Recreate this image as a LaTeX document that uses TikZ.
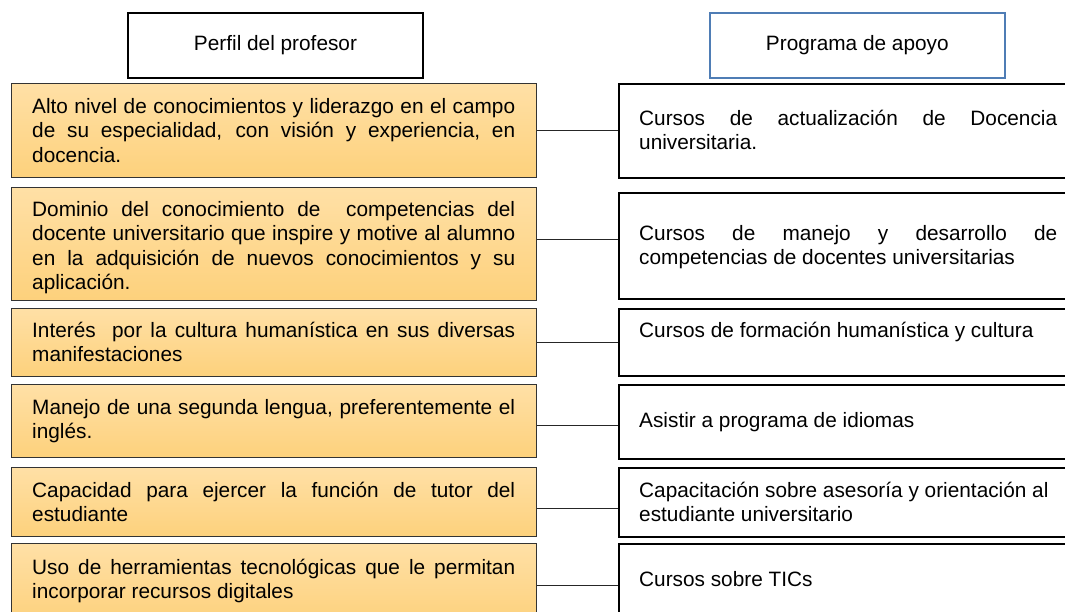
\documentclass[tikz,border=0pt]{standalone}
\usepackage{fontspec}
\setmainfont{Liberation Sans}
\definecolor{goldtop}{HTML}{FFE0A6}
\definecolor{goldbot}{HTML}{FDD17C}
\definecolor{hdrblue}{HTML}{4F7DB5}
\newcommand{\boxfont}{\fontsize{20.8}{24.5}\selectfont}
\begin{document}
\begin{tikzpicture}[x=1pt,y=-1pt,
  hdrbox/.style={draw=black, line width=2pt, fill=white, anchor=north west, inner sep=0pt, minimum width=295pt, minimum height=65pt, font=\boxfont},
  hdrboxb/.style={hdrbox, draw=hdrblue, line width=1.6pt},
  lbox/.style={draw=black!80, line width=1.1pt, top color=goldtop, bottom color=goldbot, anchor=north west, inner sep=0pt, minimum width=525pt},
  rbox/.style={draw=black, line width=2pt, fill=white, anchor=north west, inner sep=0pt, minimum width=470pt},
  ltext/.style={anchor=base west, inner sep=0pt, text width=483pt, align=justify, font=\boxfont},
  rtext/.style={anchor=base west, inner sep=0pt, text width=418pt, align=justify, font=\boxfont},
  conn/.style={draw=black!85, line width=1pt}]
\useasboundingbox (0,0) rectangle (1065,611);
\clip (0,0) rectangle (1065,611);
\hyphenpenalty=10000
% headers
\node[hdrbox] (h1) at (127,12) {Perfil del profesor};
\node[hdrboxb] (h2) at (709,12) {Programa de apoyo};
% left boxes
\node[lbox, minimum height=94pt] (l1) at (11,83) {};
\node[lbox, minimum height=113pt] (l2) at (11,187) {};
\node[lbox, minimum height=68pt] (l3) at (11,308) {};
\node[lbox, minimum height=73pt] (l4) at (11,384) {};
\node[lbox, minimum height=69pt] (l5) at (11,467) {};
\node[lbox, minimum height=80pt] (l6) at (11,543) {};
% right boxes
\node[rbox, minimum height=94pt] (r1) at (618,83) {};
\node[rbox, minimum height=106pt] (r2) at (618,192) {};
\node[rbox, minimum height=67pt] (r3) at (618,308) {};
\node[rbox, minimum height=74pt] (r4) at (618,384) {};
\node[rbox, minimum height=69pt] (r5) at (618,467) {};
\node[rbox, minimum height=74pt] (r6) at (618,543) {};
% left texts
\node[ltext] (lt1) at (32,113) {Alto nivel de conocimientos y liderazgo en el campo\linebreak de su especialidad, con visión y experiencia,\ en\linebreak docencia.};
\node[ltext] (lt2) at (32,216) {Dominio del conocimiento de\ \ competencias del\linebreak docente universitario que inspire y motive al alumno\linebreak en la adquisición de nuevos conocimientos y\ su\linebreak aplicación.};
\node[ltext] (lt3) at (32,337) {Interés\ \ por la cultura humanística en sus diversas\linebreak manifestaciones};
\node[ltext] (lt4) at (32,414) {Manejo de una segunda lengua, preferentemente el\linebreak inglés.};
\node[ltext] (lt5) at (32,497) {Capacidad para ejercer la función de tutor del\linebreak estudiante};
\node[ltext] (lt6) at (32,574) {Uso de herramientas tecnológicas que le permitan\linebreak incorporar recursos digitales};
% right texts
\node[rtext] (rt1) at (639,125) {Cursos de actualización de Docencia\linebreak universitaria.};
\node[rtext] (rt2) at (639,240) {Cursos de manejo y desarrollo de\linebreak competencias de docentes universitarias};
\node[rtext] (rt3) at (639,337) {Cursos de formación humanística y cultura};
\node[rtext] (rt4) at (639,427) {Asistir a programa de idiomas};
\node[rtext] (rt5) at (639,497) {Capacitación sobre asesoría y orientación al\\estudiante universitario};
\node[rtext] (rt6) at (639,586) {Cursos sobre TICs};
% connector levels
\coordinate (c1) at (0,130);
\coordinate (c2) at (0,239);
\coordinate (c3) at (0,342);
\coordinate (c4) at (0,425);
\coordinate (c5) at (0,508);
\coordinate (c6) at (0,585);
\foreach \i in {1,...,6}{
  \draw[conn] (l\i.east |- c\i) -- (r\i.west |- c\i);
}
\end{tikzpicture}
\end{document}
